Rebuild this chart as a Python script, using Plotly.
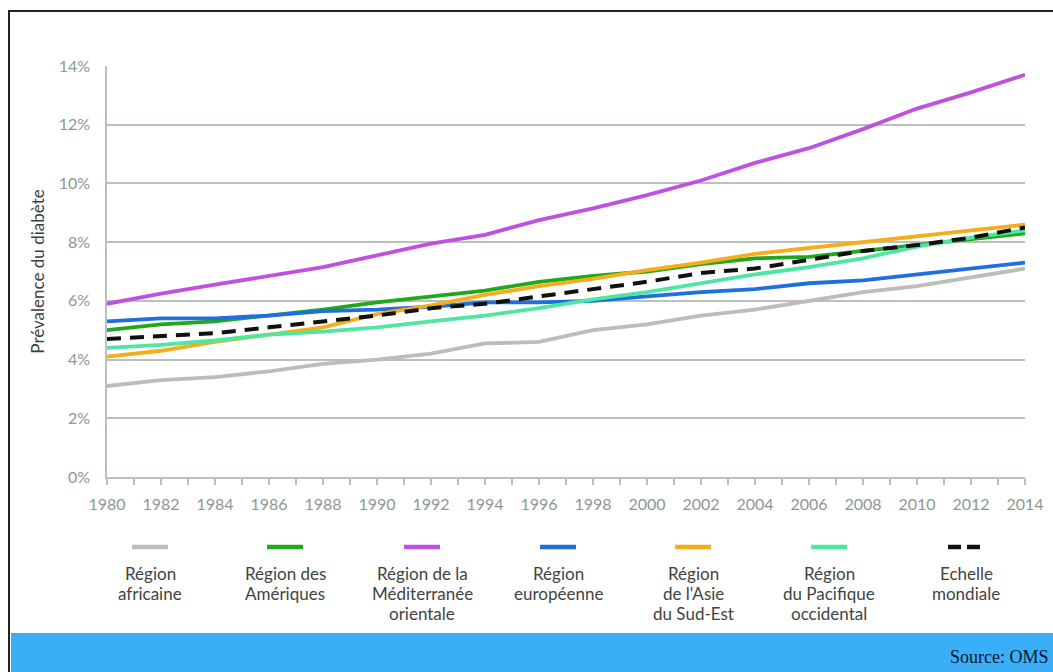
import plotly.graph_objects as go

# ---------------------------------------------------------------
# Data: diabetes prevalence by WHO region
# ---------------------------------------------------------------
years = list(range(1980, 2015, 2))

afrique = [3.1, 3.3, 3.4, 3.6, 3.85, 4.0, 4.2, 4.55, 4.6, 5.0, 5.2, 5.5, 5.7, 6.0, 6.3, 6.5, 6.8, 7.1]
ameriques = [5.0, 5.2, 5.3, 5.5, 5.7, 5.95, 6.15, 6.35, 6.65, 6.85, 7.0, 7.25, 7.45, 7.5, 7.7, 7.9, 8.1, 8.3]
mediterranee = [5.9, 6.25, 6.55, 6.85, 7.15, 7.55, 7.95, 8.25, 8.75, 9.15, 9.6, 10.1, 10.7, 11.2, 11.85, 12.55, 13.1, 13.7]
europe = [5.3, 5.4, 5.4, 5.5, 5.65, 5.7, 5.8, 5.95, 5.95, 6.0, 6.15, 6.3, 6.4, 6.6, 6.7, 6.9, 7.1, 7.3]
asie_se = [4.1, 4.3, 4.6, 4.85, 5.1, 5.55, 5.85, 6.2, 6.5, 6.75, 7.05, 7.3, 7.6, 7.8, 8.0, 8.2, 8.4, 8.6]
pacifique = [4.4, 4.5, 4.65, 4.85, 4.95, 5.1, 5.3, 5.5, 5.75, 6.05, 6.3, 6.6, 6.9, 7.15, 7.45, 7.85, 8.15, 8.4]
mondial = [4.7, 4.8, 4.9, 5.1, 5.3, 5.5, 5.75, 5.9, 6.15, 6.4, 6.65, 6.95, 7.1, 7.4, 7.7, 7.9, 8.15, 8.5]

series_names = [
    "Région<br>africaine",
    "Région des<br>Amériques",
    "Région de la<br>Méditerranée<br>orientale",
    "Région<br>européenne",
    "Région<br>de l'Asie<br>du Sud-Est",
    "Région<br>du Pacifique<br>occidental",
    "Echelle<br>mondiale",
]
series_values = [afrique, ameriques, mediterranee, europe, asie_se, pacifique, mondial]
series_colors = ["#bdbdb6", "#22a81c", "#c050e0", "#1f6fe0", "#f6ad1b", "#4fe6a2", "#111111"]

y_ticks = [0, 2, 4, 6, 8, 10, 12, 14]
y_tick_labels = [f"{v}%" for v in y_ticks]

# ---------------------------------------------------------------
# Figure geometry (pixels)
# ---------------------------------------------------------------
W, H = 1053, 672
L, R, T, B = 107, 28, 66, 195
PW, PH = W - L - R, H - T - B


def px_x(p):
    return (p - L) / PW


def px_y(p):
    return (H - B - p) / PH


FONT = "Lato, 'Open Sans', sans-serif"
GRID = "#b9c1be"
TICK_TXT = "#8d9794"

fig = go.Figure()

for name, vals, col in zip(series_names, series_values, series_colors):
    dashed = col == "#111111"
    fig.add_trace(go.Scatter(
        x=years, y=vals, mode="lines", name=name.replace("<br>", " "),
        line=dict(color=col, width=4 if dashed else 3.8,
                  dash="14px,9px" if dashed else "solid"),
        showlegend=False,
    ))

# ---------------------------------------------------------------
# Custom legend under the chart: line sample + centred text lines
# ---------------------------------------------------------------
shapes = []
annotations = []
legend_cx = [150, 285, 422, 558, 693, 829, 966]
for cx, name, col in zip(legend_cx, series_names, series_colors):
    dashed = col == "#111111"
    shapes.append(dict(
        type="line", xref="paper", yref="paper",
        x0=px_x(cx - 18), x1=px_x(cx + 18), y0=px_y(547), y1=px_y(547),
        line=dict(color=col, width=4.5, dash="13px,6px" if dashed else "solid"),
    ))
    for i, part in enumerate(name.split("<br>")):
        annotations.append(dict(
            text=part, xref="paper", yref="paper", x=px_x(cx), y=px_y(573 + 20 * i),
            xanchor="center", yanchor="middle", showarrow=False,
            font=dict(family=FONT, size=17, color="#3f4442"),
        ))

# blue source band + black frame
shapes.append(dict(
    type="rect", xref="paper", yref="paper", layer="below",
    x0=px_x(11), x1=px_x(1060), y0=px_y(633), y1=px_y(680),
    fillcolor="#3aaff7", line=dict(width=0),
))
shapes.append(dict(
    type="rect", xref="paper", yref="paper",
    x0=px_x(9), x1=px_x(1062), y0=px_y(11), y1=px_y(690),
    fillcolor="rgba(0,0,0,0)", line=dict(color="#222222", width=2),
))
annotations.append(dict(
    text="Source: OMS", xref="paper", yref="paper", x=px_x(1051), y=px_y(657),
    xanchor="right", yanchor="middle", showarrow=False,
    font=dict(family="'Liberation Serif', 'DejaVu Serif', serif", size=18, color="#08142e"),
))

fig.update_layout(
    width=W, height=H,
    margin=dict(l=L, r=R, t=T, b=B, autoexpand=False),
    paper_bgcolor="white", plot_bgcolor="white",
    font=dict(family=FONT),
    shapes=shapes, annotations=annotations,
    showlegend=False,
)

fig.update_xaxes(
    range=[1980, 2014], dtick=2, tick0=1980,
    showgrid=False, zeroline=False,
    showline=True, linecolor=GRID, linewidth=1.5,
    ticks="outside", ticklen=6, tickcolor=GRID, tickwidth=1.5,
    minor=dict(dtick=1, ticks="outside", ticklen=6, tickcolor=GRID, tickwidth=1.5),
    ticklabelstandoff=6,
    tickfont=dict(family=FONT, size=16, color=TICK_TXT),
)
fig.update_yaxes(
    range=[0, 14], tickvals=y_ticks, ticktext=y_tick_labels,
    showgrid=True, gridcolor=GRID, gridwidth=1.5, zeroline=False,
    showline=True, linecolor=GRID, linewidth=1.5,
    ticks="", ticklabelstandoff=12,
    tickfont=dict(family=FONT, size=16, color=TICK_TXT),
    title=dict(text="Prévalence du diabète", standoff=10,
               font=dict(family=FONT, size=17, color="#3a3f3d")),
)

# the page body has a default 8px margin; drop it so the chart sits at 0,0
fig.write_html("out.html", config={"displayModeBar": False},
               post_script="document.body.style.margin='0';")
